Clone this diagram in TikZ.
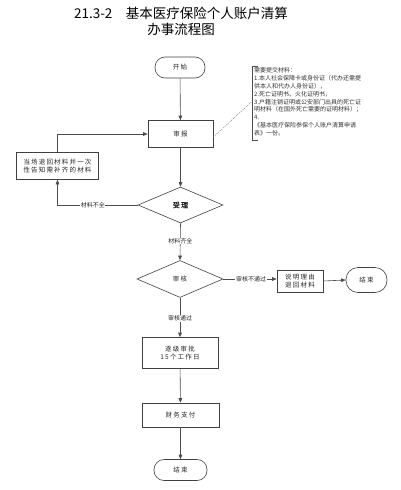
\documentclass[tikz,border=0pt]{standalone}
\usepackage{fontspec}
\setmainfont{Noto Sans CJK SC}
\newfontfamily\boxfont[LetterSpace=18]{Noto Sans CJK SC}
\newfontfamily\boldfont[FakeBold=1.5,LetterSpace=18]{Noto Sans CJK SC}
\usetikzlibrary{arrows.meta,shapes.geometric}
\tikzset{
  base/.style={draw=black!75, line width=0.6pt, inner sep=1pt, align=center, text=black!85, font=\boxfont\fontsize{6.5}{8}\selectfont},
  stadium/.style={base, rectangle, rounded corners=10pt},
  procbox/.style={base, rectangle},
  decide/.style={base, diamond, aspect=2.3, inner sep=0pt},
  arr/.style={draw=black!70, line width=0.6pt, -{Triangle[width=3.6pt,length=4.5pt]}},
  lbl/.style={fill=white, inner sep=0.6pt, text=black!85, font=\fontsize{6}{7}\selectfont},
}
\begin{document}
\begin{tikzpicture}[x=1pt,y=-1pt]
\useasboundingbox (0,0) rectangle (400,490);
\node[align=center, font=\fontsize{13.5}{16}\selectfont] (title) at (181,21)
  {21.3-2\quad 基本医疗保险个人账户清算\\办事流程图};
\node[stadium, minimum width=50pt, minimum height=21pt] (start) at (180,67.5) {开始};
\node[procbox, minimum width=65pt, minimum height=27pt] (shenbao) at (180.5,134) {审报};
\node[anchor=north west, inner sep=0pt, align=left, text=black!80, font=\fontsize{6}{7.9}\selectfont] (note) at (254,67.2)
  {需要提交材料：\\
   1.本人社会保障卡或身份证（代办还需提\\
   供本人和代办人身份证），\\
   2.死亡证明书、火化证明书，\\
   3.户籍注销证明或公安部门出具的死亡证\\
   明材料（在国外死亡需要的证明材料）；\\
   4.\\
   《基本医疗保险参保个人账户清算申请\\
   表》一份。};
\draw[black!70, line width=0.9pt] (257.5,66) -- (252.5,66) -- (252.5,140) -- (257.5,140);
\coordinate (bracket) at (252.5,101);
\node[decide, minimum width=85pt, minimum height=36pt, font=\boldfont\fontsize{7}{8}\selectfont] (shouli) at (180.5,205) {受理};
\node[procbox, minimum width=82pt, minimum height=27pt] (buqi) at (57.5,166)
  {当场退回材料并一次\\性告知需补齐的材料};
\node[decide, minimum width=86pt, minimum height=37pt] (shenhe) at (180,279) {审核};
\node[procbox, minimum width=46pt, minimum height=22pt] (shuoming) at (300,281) {说明理由\\退回材料};
\node[stadium, minimum width=41pt, minimum height=25pt, rounded corners=12pt] (end1) at (366.5,280) {结束};
\node[procbox, minimum width=76pt, minimum height=31pt] (zhuji) at (180,353) {逐级审批\\15个工作日};
\node[procbox, minimum width=77pt, minimum height=24pt] (caiwu) at (180.5,415) {财务支付};
\node[stadium, minimum width=53pt, minimum height=21pt] (end2) at (180.5,470) {结束};

\draw[arr] (start) -- (shenbao);
\draw[arr] (shenbao) -- (shouli);
\draw[arr] (shouli.west) -- node[lbl, pos=0.56] {材料不全} (shouli.west -| buqi.south) -- (buqi.south);
\draw[arr] (buqi.north) |- (shenbao.west);
\draw[arr] (shouli.south) -- node[lbl, pos=0.48] {材料齐全} (shenhe.north);
\draw[arr] (shenhe.east) -- node[lbl, pos=0.52] {审核不通过} (shuoming.west |- shenhe.east);
\draw[arr] (shuoming.east) -- (end1.west);
\draw[arr] (shenhe.south) -- node[lbl, pos=0.52] {审核通过} (zhuji.north);
\draw[arr] (zhuji) -- (caiwu);
\draw[arr] (caiwu) -- (end2);
\draw[black!50, line width=0.5pt, dash pattern=on 1.2pt off 1pt] ([yshift=-3pt]shenbao.east) -- (bracket);
\end{tikzpicture}
\end{document}
